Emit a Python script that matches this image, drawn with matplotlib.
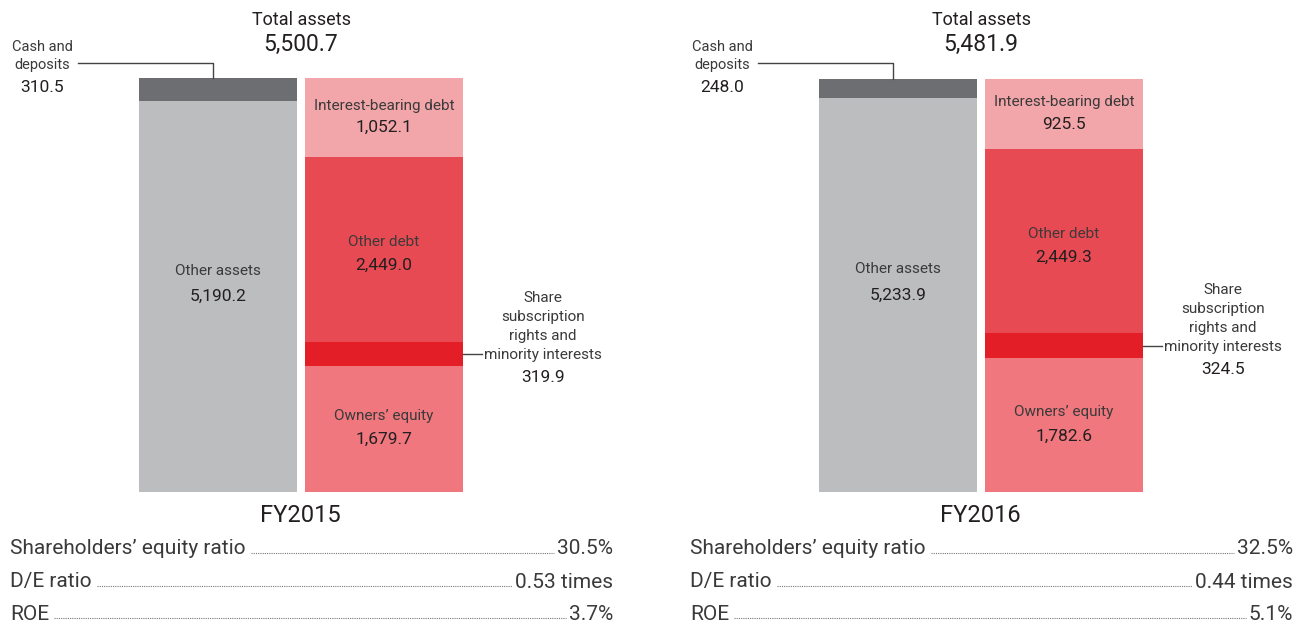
import matplotlib
matplotlib.use('Agg')
import matplotlib.pyplot as plt

plt.rcParams['font.family'] = ['Roboto', 'DejaVu Sans']

# data (billions of yen)
years = ['FY2015', 'FY2016']
total_assets = [5500.7, 5481.9]
cash = [310.5, 248.0]
other_assets = [5190.2, 5233.9]
interest_debt = [1052.1, 925.5]
other_debt = [2449.0, 2449.3]
share_rights = [319.9, 324.5]
owners_equity = [1679.7, 1782.6]
equity_ratio = ['30.5%', '32.5%']
de_ratio = ['0.53 times', '0.44 times']
roe = ['3.7%', '5.1%']

#Colours
c_cash = '#6d6e71'
c_other_assets = '#bcbdbf'
c_interest = '#f3a6aa'
c_other_debt = '#e84a53'
c_share = '#e31e27'
c_equity = '#ef777d'
c_text = '#231f20'
c_label = '#3a3a3a'

W, H = 1296, 623
base_px = 492           # pixel row of the bar base
scale = 414 / 5500.7    # pixels per unit

fig = plt.figure(figsize=(W / 100, H / 100), dpi=100)


def py(p):
    # pixel row (from top) -> data value
    return (base_px - p) / scale


def dp(p):
    # pixel offset -> data offset (positive = up)
    return p / scale


def seg_label(ax, x, mid, name, value, up, down):
    ax.text(x, mid + dp(up), name, ha='center', va='center', fontsize=11, color=c_label)
    ax.text(x, mid - dp(down), f'{value:,.1f}', ha='center', va='center',
            fontsize=12.5, color=c_text)


axes = []
for i, year in enumerate(years):
    off = 0 if i == 0 else 680
    ax = fig.add_axes([off / W, 0, 648 / W, 1])
    ax.set_xlim(0, 648)
    ax.set_ylim(py(H), py(0))
    ax.axis('off')
    axes.append(ax)

    # left bar: assets
    ax.bar(218, other_assets[i], width=158, color=c_other_assets)
    ax.bar(218, cash[i], width=158, bottom=other_assets[i], color=c_cash)

    # right bar: liabilities and equity
    bottom = 0
    segs = [(owners_equity[i], c_equity), (share_rights[i], c_share),
            (other_debt[i], c_other_debt), (interest_debt[i], c_interest)]
    mids = []
    for v, c in segs:
        ax.bar(384, v, width=158, bottom=bottom, color=c)
        mids.append(bottom + v / 2)
        bottom += v

    top = total_assets[i]

    # Total assets
    ax.text(301, py(20), 'Total assets', ha='center', va='center', fontsize=13, color=c_text)
    ax.text(301, py(44), f'{total_assets[i]:,.1f}', ha='center', va='center', fontsize=16.5, color=c_text)

    # Cash and deposits callout
    ax.text(42, py(56), 'Cash and\ndeposits', ha='center', va='center', fontsize=10.5,
            color=c_label, linespacing=1.3)
    ax.text(42, py(88), f'{cash[i]:,.1f}', ha='center', va='center', fontsize=12.5, color=c_text)
    ax.plot([78, 213, 213], [py(63), py(63), top], color='#444444', lw=1)

    # labels inside bars
    seg_label(ax, 218, other_assets[i] / 2, 'Other assets', other_assets[i], 26, 0)
    seg_label(ax, 384, mids[3], 'Interest-bearing debt', interest_debt[i], 12, 10)
    seg_label(ax, 384, mids[2], 'Other debt', other_debt[i], 7, 16)
    seg_label(ax, 384, mids[0], "Owners\u2019 equity", owners_equity[i], 13, 11)

    # share subscription callout
    sh_mid = mids[1]
    ax.plot([463, 482], [sh_mid, sh_mid], color='#444444', lw=1)
    ax.text(543, sh_mid - dp(8), 'Share\nsubscription\nrights and\nminority interests',
            ha='center', va='bottom', fontsize=11, color=c_label, linespacing=1.45)
    ax.text(543, sh_mid - dp(24), f'{share_rights[i]:,.1f}', ha='center', va='center',
            fontsize=12.5, color=c_text)

    # year label
    ax.text(300, py(516), year, ha='center', va='center', fontsize=17, color=c_text)

fig.canvas.draw()
renderer = fig.canvas.get_renderer()

rows = [("Shareholders\u2019 equity ratio", equity_ratio, 549),
        ('D/E ratio', de_ratio, 582),
        ('ROE', roe, 614)]
for i, ax in enumerate(axes):
    inv = ax.transData.inverted()
    for name, vals, y in rows:
        t1 = ax.text(10, py(y), name, ha='left', va='center', fontsize=15, color=c_label)
        t2 = ax.text(613, py(y), vals[i], ha='right', va='center', fontsize=15, color=c_label)
        b1 = t1.get_window_extent(renderer)
        b2 = t2.get_window_extent(renderer)
        x1 = inv.transform((b1.x1, 0))[0] + 5
        x2 = inv.transform((b2.x0, 0))[0] - 3
        ax.plot([x1, x2], [py(y + 4), py(y + 4)], color='#777777', lw=0.8, ls=(0, (1, 1)))

fig.savefig('out.png', dpi=100)
